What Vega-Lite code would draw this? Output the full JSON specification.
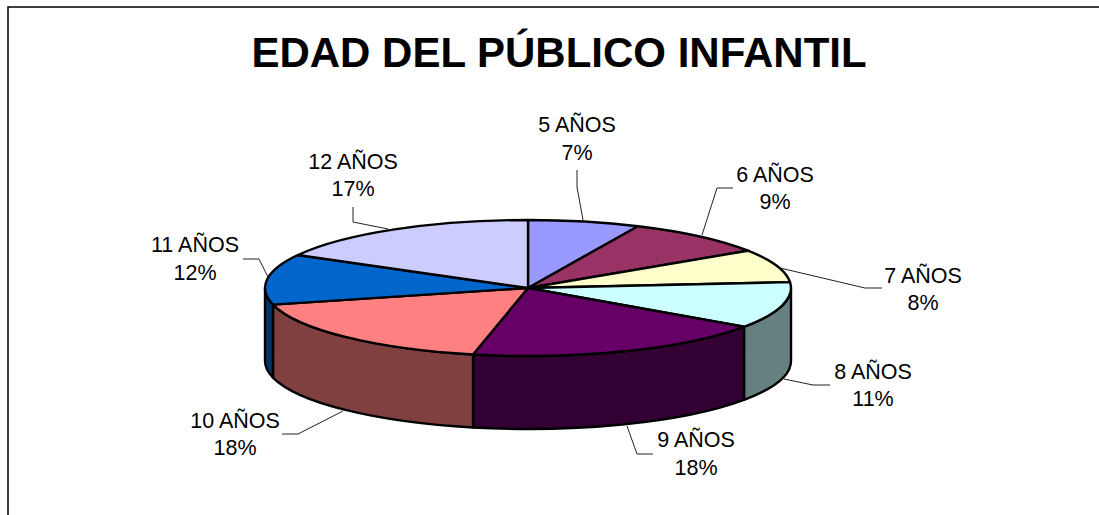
{
"$schema":"https://vega.github.io/schema/vega-lite/v6.json",
"width":1092,"height":512,
"autosize":{"type":"none"},
"padding":{"left":8,"top":7,"right":0,"bottom":0},
"background":"#ffffff",
"view":{"stroke":"#000000","strokeWidth":1.5,"fill":"#ffffff"},
"title":{"text":"EDAD DEL PÚBLICO INFANTIL","font":"Liberation Sans","fontSize":42,"fontWeight":"bold","color":"#000000","anchor":"middle","baseline":"alphabetic","offset":-60,"dx":5,"dy":42},
"data":{"values":[
{"edad":5,"nombre":"5 AÑOS","pct":0.07},
{"edad":6,"nombre":"6 AÑOS","pct":0.09},
{"edad":7,"nombre":"7 AÑOS","pct":0.08},
{"edad":8,"nombre":"8 AÑOS","pct":0.11},
{"edad":9,"nombre":"9 AÑOS","pct":0.18},
{"edad":10,"nombre":"10 AÑOS","pct":0.18},
{"edad":11,"nombre":"11 AÑOS","pct":0.12},
{"edad":12,"nombre":"12 AÑOS","pct":0.17}
]},
"layer":[
{"mark":{"type":"point","filled":false,"stroke":"#222222","strokeWidth":1,"opacity":1},
"encoding":{
"x":{"datum":528,"type":"quantitative","axis":null,"scale":{"domain":[8,1100]}},
"y":{"datum":288,"type":"quantitative","axis":null,"scale":{"domain":[519,7]}},
"size":{"value":4},
"shape":{"field":"edad","type":"nominal","legend":null,"scale":{"domain":[5,6,7,8,9,10,11,12],"range":[
"M49,-118L49,-101L55,-68",
"M205,-100L189,-100L174,-53",
"M252,-20L337,0L354,0",
"M256,91L285,97L302,97",
"M99,138L109,166L125,166",
"M-185,123L-230,146L-246,146",
"M-260,-11L-269,-29L-285,-29",
"M-175,-81L-175,-66L-140,-59"]}}
}},
{"transform":[{"filter":{"field":"edad","range":[8,11]}}],
"mark":{"type":"point","filled":true,"stroke":"#000000","strokeWidth":2.4,"opacity":1,"strokeJoin":"round"},
"encoding":{
"x":{"datum":528,"type":"quantitative","axis":null,"scale":{"domain":[8,1100]}},
"y":{"datum":288,"type":"quantitative","axis":null,"scale":{"domain":[519,7]}},
"size":{"value":4},
"fill":{"field":"edad","type":"nominal","legend":null,"scale":{"domain":[8,9,10,11],"range":["#668080","#330033","#804040","#003366"]}},
"shape":{"field":"edad","type":"nominal","legend":null,"scale":{"domain":[8,9,10,11],"range":[
"M263,0A263,68 0 0 1 216,38.8L216,111.8A263,68 0 0 0 263,73Z",
"M216,38.8A263,68 0 0 1 -55,66.5L-55,139.5A263,68 0 0 0 216,111.8Z",
"M-55,66.5A263,68 0 0 1 -255,16.6L-255,89.6A263,68 0 0 0 -55,139.5Z",
"M-255,16.6A263,68 0 0 1 -263,0L-263,73A263,68 0 0 0 -255,89.6Z"]}}
}},
{"mark":{"type":"point","filled":true,"stroke":"#000000","strokeWidth":2.4,"opacity":1,"strokeJoin":"round"},
"encoding":{
"x":{"datum":528,"type":"quantitative","axis":null,"scale":{"domain":[8,1100]}},
"y":{"datum":288,"type":"quantitative","axis":null,"scale":{"domain":[519,7]}},
"size":{"value":4},
"fill":{"field":"edad","type":"nominal","legend":null,"scale":{"domain":[5,6,7,8,9,10,11,12],"range":["#9999FF","#993366","#FFFFCC","#CCFFFF","#660066","#FF8080","#0066CC","#CCCCFF"]}},
"shape":{"field":"edad","type":"nominal","legend":null,"scale":{"domain":[5,6,7,8,9,10,11,12],"range":[
"M0,0L0,-68A263,68 0 0 1 110,-61.8Z",
"M0,0L110,-61.8A263,68 0 0 1 220,-37.3Z",
"M0,0L220,-37.3A263,68 0 0 1 262,-5.9Z",
"M0,0L262,-5.9A263,68 0 0 1 216,38.8Z",
"M0,0L216,38.8A263,68 0 0 1 -55,66.5Z",
"M0,0L-55,66.5A263,68 0 0 1 -255,16.6Z",
"M0,0L-255,16.6A263,68 0 0 1 -230,-33Z",
"M0,0L-230,-33A263,68 0 0 1 0,-68Z"]}}
}},
{"mark":{"type":"text","font":"Liberation Sans","fontSize":21.5,"color":"#000000","align":"center","baseline":"middle","dy":1.5},
"encoding":{
"x":{"field":"edad","type":"quantitative","axis":null,"scale":{"domain":[5,6,7,8,9,10,11,12],"range":[569,767,915,865,688,227,187,345]}},
"y":{"field":"edad","type":"quantitative","axis":null,"scale":{"domain":[5,6,7,8,9,10,11,12],"range":[117,167,268,364,432,413,237,154]}},
"text":{"field":"nombre"}
}},
{"mark":{"type":"text","font":"Liberation Sans","fontSize":21.5,"color":"#000000","align":"center","baseline":"middle","dy":1.5},
"encoding":{
"x":{"field":"edad","type":"quantitative","axis":null,"scale":{"domain":[5,6,7,8,9,10,11,12],"range":[569,767,915,865,688,227,187,345]}},
"y":{"field":"edad","type":"quantitative","axis":null,"scale":{"domain":[5,6,7,8,9,10,11,12],"range":[145,194,295,391,460,440,265,181]}},
"text":{"field":"pct","type":"quantitative","format":".0%"}
}}
],
"resolve":{"scale":{"x":"independent","y":"independent","shape":"independent","fill":"independent"}}
}
